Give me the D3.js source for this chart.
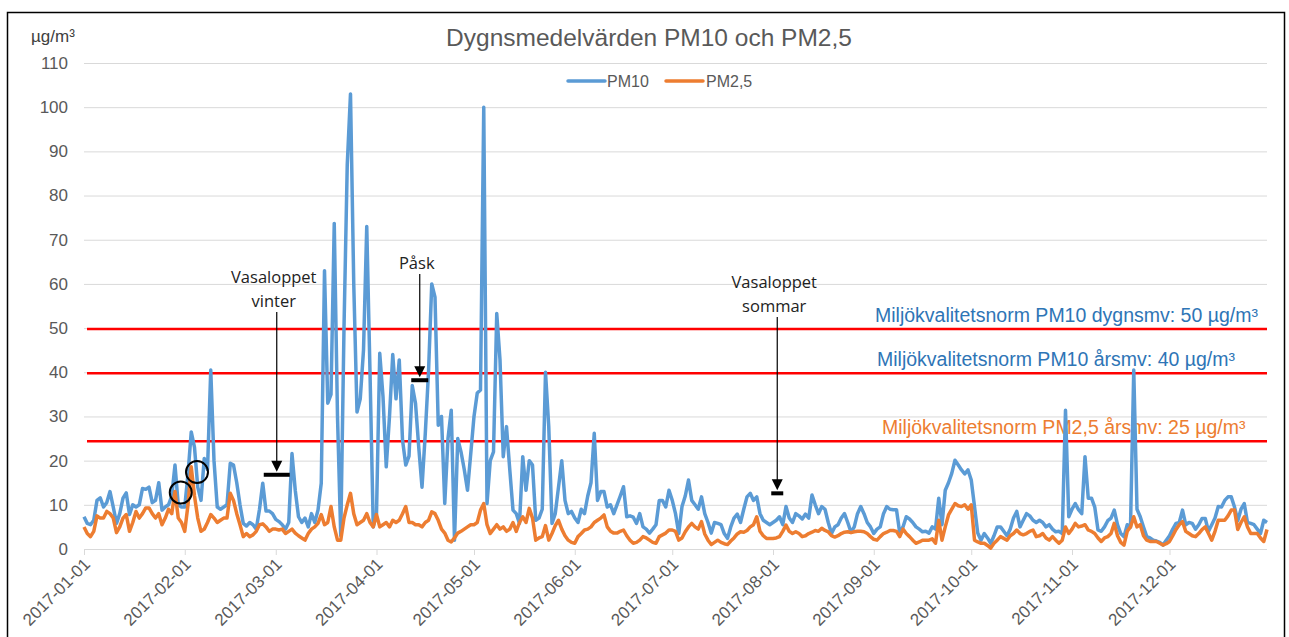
<!DOCTYPE html>
<html>
<head>
<meta charset="utf-8">
<style>
body { margin: 0; background: #fff; }
svg { display: block; font-family: "Liberation Sans", Arial, sans-serif; }
</style>
</head>
<body>
<div></div>
<script src="https://cdn.jsdelivr.net/npm/d3@7"></script>
<script>
var width = 1289, height = 637;

// PM10 daily means, one array per month
var pm10Jan = [7.3, 5.8, 5.5, 6.5, 11, 11.6, 9.5, 10.5, 13, 9.5, 5.8, 8, 11.5, 12.7, 7.8, 10, 9.5, 10, 13.7, 13.5, 14, 10.5, 11, 15, 8.8, 9.5, 10, 12, 19, 10, 9.5];
var pm10Feb = [9.5, 17, 26.5, 23, 14, 11, 20.5, 18, 40.5, 20, 9.5, 9, 9.5, 10, 19.4, 19, 15, 10, 5.8, 5.2, 6, 5.5, 4.5, 9, 14.9, 8.6, 8.6, 8];
var pm10Mar = [6.7, 6.2, 5.5, 4.5, 6, 21.6, 13.3, 7.3, 6, 7, 5, 8, 6, 8.8, 14.9, 63, 33, 35, 73.7, 30, 3, 50, 87, 103, 60, 31, 34, 45, 73, 40, 5];
var pm10Apr = [8, 44.3, 34.5, 18.6, 30, 44, 34, 42.8, 24.7, 19, 21, 37, 33, 23, 14, 26, 40, 60, 57, 28, 30, 10.3, 25, 31.4, 2, 25, 22, 18, 13.3, 21.6];
var pm10May = [30, 35.3, 36, 100, 10.3, 20, 22, 53.3, 42.8, 20.9, 27.7, 18, 8.8, 8, 5.8, 20.9, 13.3, 20, 19, 6.5, 7, 9, 40, 27.7, 5.8, 8, 14, 20, 11, 8, 8.5];
var pm10Jun = [7, 6, 9, 8, 12, 15, 26.2, 11, 13, 13, 9.5, 10, 8, 10, 12, 14.1, 7.3, 7.5, 7.2, 5.8, 8, 5, 4.5, 3.6, 4.5, 5.5, 11, 11, 9.5, 13.3];
var pm10Jul = [11, 8, 3.5, 9.6, 12, 15.6, 11, 10, 9, 11.8, 8, 6, 3.6, 6, 5.8, 5.5, 3.5, 2.4, 5, 7, 7.9, 6, 9, 11.8, 12.6, 11, 11.8, 8, 6.5, 6, 5.5];
var pm10Aug = [6, 6.5, 7.3, 5.5, 9.6, 7, 6, 8, 7.5, 6.8, 7.9, 7, 12.2, 10, 8, 9.6, 9, 6, 3.5, 5, 5.5, 7, 8, 6, 3.8, 5, 8, 9.6, 8, 6, 5];
var pm10Sep = [3.5, 4.5, 5, 8, 9.6, 9, 8.9, 8.9, 3.6, 5, 7.3, 6.8, 6, 5, 4.5, 3.9, 4, 3.6, 5, 4.5, 11.5, 5.5, 13.3, 15, 17.1, 20.1, 19, 17.9, 17, 17.9];
var pm10Oct = [15.6, 9.6, 3.6, 2, 3.5, 2.5, 1.3, 3, 5, 5, 4, 3, 4.5, 7, 8.5, 5, 6.5, 8, 7.5, 6.5, 6, 6.5, 6, 5, 5.5, 4.5, 3.9, 4, 3.5, 31.4, 7.3];
var pm10Nov = [9, 10.3, 8.9, 8, 20.9, 11.5, 11.5, 9.5, 4.3, 4, 5, 6.4, 7, 8.8, 5.5, 3.5, 2.8, 5.5, 5, 40.5, 9, 7.3, 5, 2.8, 2.5, 2, 1.8, 1.5, 0.9, 2];
var pm10Dec = [3, 4.5, 5.8, 6, 8.8, 5.5, 6, 5.8, 4.5, 5.5, 6.9, 6.9, 4, 5.5, 7, 9.6, 9.5, 11, 11.8, 11.8, 9.5, 6.4, 9, 10.3, 6, 5.8, 5.5, 4.5, 3.5, 6.5, 6];

// PM2,5 daily means, one array per month
var pm25Jan = [5, 3.5, 2.8, 4, 7.5, 7, 7, 8.5, 8, 7, 3.7, 5, 7, 7.8, 4, 6, 8.5, 7, 8, 9.3, 9.3, 8, 7, 8, 5.5, 7, 9, 8, 13, 7, 6];
var pm25Feb = [4, 10, 18.6, 12, 7, 4, 4.5, 6, 7.8, 7, 6, 6.5, 7, 7, 12.6, 11, 8, 5.5, 2.8, 3.5, 2.8, 3.2, 4, 5.5, 5.7, 5, 4, 4.5];
var pm25Mar = [4.5, 4.3, 4.5, 3.5, 4, 4.5, 3.6, 3, 2.5, 2, 3.5, 4.5, 5, 5.8, 7.8, 5.5, 6, 9.6, 5, 2, 2, 7, 10, 12.6, 8, 5.5, 6, 6.5, 8, 6, 5];
var pm25Apr = [7.8, 5, 5.5, 6, 5, 6.5, 6, 6.5, 8, 9.6, 6, 6, 5.5, 5.5, 5, 6, 6.5, 8.4, 8, 6.5, 4.5, 3.6, 2, 1.6, 2.5, 3.6, 4, 4.5, 5, 5.5];
var pm25May = [5.5, 6, 8.8, 10.3, 5.5, 3.5, 4.5, 5.5, 4.5, 5, 4, 4.5, 6, 4, 6, 7.3, 6, 9.2, 7, 2, 2.5, 2.8, 5.3, 2, 3.5, 5.3, 6.5, 4.5, 3, 2, 1.5];
var pm25Jun = [1.3, 2.8, 3.5, 4.3, 4.5, 5, 6, 6.5, 7, 7.7, 5, 4, 3.6, 3.6, 4, 4.3, 3, 2, 1.3, 1.5, 2, 2.8, 2.5, 2, 1.5, 1.3, 2.8, 3.2, 3.6, 4.3];
var pm25Jul = [4.3, 4, 2, 2.5, 3.9, 5, 5.8, 5, 4.5, 6.2, 3.4, 2, 1, 1.5, 2, 1.5, 1.2, 1, 1.8, 2.5, 3.4, 3.9, 3.8, 4.2, 5, 5.5, 7.3, 4, 3, 2.4, 2.4];
var pm25Aug = [2.4, 2.5, 2.8, 4, 5.4, 4, 3.5, 3.9, 3.5, 2.8, 3, 3.5, 3.8, 4.2, 4, 4.7, 4.2, 3.9, 3, 2.7, 3, 3.5, 3.8, 3.9, 3.7, 3.9, 4, 4, 3.9, 3.5, 2.8];
var pm25Sep = [2.2, 2, 2.8, 3.5, 3.8, 4.2, 4.2, 4, 2.8, 4.5, 3.5, 2.8, 2, 1.3, 1.6, 2, 2, 2, 2.3, 1.3, 6.5, 2, 5, 7.7, 9, 10.3, 9.8, 9.6, 10, 9];
var pm25Oct = [10, 2, 1.6, 1.3, 1.3, 0.8, 0.2, 1.3, 2, 2.8, 2.4, 2, 3, 3.5, 4.3, 3.5, 3.2, 3.5, 4, 4.3, 2.8, 3, 3.5, 2.5, 2, 2.8, 2, 1.3, 2, 5, 3.5];
var pm25Nov = [4.5, 5.8, 5, 5.2, 5.5, 4.3, 4, 3.5, 2.5, 1.7, 2.5, 2.8, 3.5, 5.8, 3, 1.5, 0.9, 4, 5, 7.3, 5, 5.5, 3, 2, 1.7, 1.7, 1.7, 1.3, 0.9, 1.2];
var pm25Dec = [1.7, 3, 4.4, 5.5, 6.2, 4, 3.5, 3, 2.8, 3.5, 4.4, 5, 3.5, 2, 4, 6.5, 6.5, 6.5, 7.5, 8.8, 8.8, 4.4, 6, 7.3, 5, 3.5, 3.5, 3.5, 2.5, 1.7, 4.4];

var yTicks = [0, 10, 20, 30, 40, 50, 60, 70, 80, 90, 100, 110];
var monthTicks = ["2017-01-01", "2017-02-01", "2017-03-01", "2017-04-01", "2017-05-01", "2017-06-01",
                  "2017-07-01", "2017-08-01", "2017-09-01", "2017-10-01", "2017-11-01", "2017-12-01"];

// limit lines (drawn levels) and their labels
var normLevels = [49.8, 39.8, 24.4];
var normLabels = ["Miljökvalitetsnorm PM10 dygnsmv: 50 µg/m³",
                  "Miljökvalitetsnorm PM10 årsmv: 40 µg/m³",
                  "Miljökvalitetsnorm PM2,5 årsmv: 25 µg/m³"];
var normColors = ["#2E75B6", "#2E75B6", "#ED7D31"];

// annotated events
var eventDates = ["2017-03-01", "2017-04-14", "2017-08-02"];
var eventLevels = [16.8, 38.2, 12.6];
var eventTexts = [["Vasaloppet", "vinter"], ["Påsk"], ["Vasaloppet", "sommar"]];

var pm10 = [].concat(pm10Jan, pm10Feb, pm10Mar, pm10Apr, pm10May, pm10Jun, pm10Jul, pm10Aug, pm10Sep, pm10Oct, pm10Nov, pm10Dec);
var pm25 = [].concat(pm25Jan, pm25Feb, pm25Mar, pm25Apr, pm25May, pm25Jun, pm25Jul, pm25Aug, pm25Sep, pm25Oct, pm25Nov, pm25Dec);

var parse = d3.utcParse("%Y-%m-%d");
var start = parse("2017-01-01");

var x = d3.scaleUtc()
    .domain([start, parse("2017-12-31")])
    .range([84, 1267]);

var y = d3.scaleLinear()
    .domain([0, 110])
    .range([549, 63]);

var svg = d3.select("div").append("svg")
    .attr("width", width)
    .attr("height", height);

// chart border
svg.append("rect")
    .attr("x", 7.5).attr("y", 12.5)
    .attr("width", 1277).attr("height", 700)
    .attr("fill", "none")
    .attr("stroke", "#000")
    .attr("stroke-width", 1.5);

// gridlines
svg.append("g")
  .selectAll("line")
    .data(yTicks.slice(1))
  .enter().append("line")
    .attr("x1", x.range()[0]).attr("x2", x.range()[1])
    .attr("y1", function(d) { return y(d) + 0.5; })
    .attr("y2", function(d) { return y(d) + 0.5; })
    .attr("stroke", "#d9d9d9");

// y tick labels
svg.append("g")
  .selectAll("text")
    .data(yTicks)
  .enter().append("text")
    .attr("x", 68)
    .attr("y", function(d) { return y(d); })
    .attr("dy", "0.35em")
    .attr("text-anchor", "end")
    .style("font-size", "17px")
    .style("fill", "#595959")
    .text(function(d) { return d; });

svg.append("text")
    .attr("x", 31).attr("y", 42)
    .style("font-size", "17px")
    .style("fill", "#404040")
    .text("µg/m³");

// x axis
var ticks = monthTicks.map(parse);
var xAxis = svg.append("g")
    .attr("transform", "translate(0," + y(0) + ")")
    .call(d3.axisBottom(x).tickValues(ticks).tickSize(6).tickFormat(""));
xAxis.select(".domain").attr("stroke", "#d9d9d9").attr("d", "M" + x.range()[0] + ",0.5H" + x.range()[1]);
xAxis.selectAll(".tick line").attr("stroke", "#d9d9d9");

svg.append("g")
  .selectAll("text")
    .data(ticks)
  .enter().append("text")
    .attr("transform", function(d) { return "translate(" + (x(d) + 3) + ",561) rotate(-45)"; })
    .attr("text-anchor", "end")
    .attr("dy", "0.35em")
    .style("font-size", "17px")
    .style("fill", "#595959")
    .text(d3.utcFormat("%Y-%m-%d"));

// limit lines
svg.append("g")
  .selectAll("line")
    .data(normLevels)
  .enter().append("line")
    .attr("x1", 87).attr("x2", 1267)
    .attr("y1", function(d) { return y(d); })
    .attr("y2", function(d) { return y(d); })
    .attr("stroke", "#ff0000")
    .attr("stroke-width", 2.5);

var normX = [875, 877, 882];
svg.append("g")
  .selectAll("text")
    .data(normLabels)
  .enter().append("text")
    .attr("x", function(d, i) { return normX[i]; })
    .attr("y", function(d, i) { return y(normLevels[i]) - 7; })
    .style("font-size", "19.5px")
    .style("fill", function(d, i) { return normColors[i]; })
    .text(function(d) { return d; });

// series
var line = d3.line()
    .x(function(d, i) { return x(d3.utcDay.offset(start, i)); })
    .y(function(d) { return y(d); });

svg.append("path")
    .datum(pm10)
    .attr("d", line)
    .attr("fill", "none")
    .attr("stroke", "#5B9BD5")
    .attr("stroke-width", 3.5)
    .attr("stroke-linejoin", "round");

svg.append("path")
    .datum(pm25)
    .attr("d", line)
    .attr("fill", "none")
    .attr("stroke", "#ED7D31")
    .attr("stroke-width", 3.5)
    .attr("stroke-linejoin", "round");

// title
svg.append("text")
    .attr("x", 649).attr("y", 46)
    .attr("text-anchor", "middle")
    .style("font-size", "24.5px")
    .style("fill", "#595959")
    .text("Dygnsmedelvärden PM10 och PM2,5");

// legend
var legend = svg.append("g").attr("transform", "translate(568,81)");
legend.append("line").attr("x1", 0).attr("x2", 37).attr("stroke", "#5B9BD5").attr("stroke-width", 3.5).attr("stroke-linecap", "round");
legend.append("text").attr("x", 39).attr("y", 6).style("font-size", "16px").style("fill", "#595959").text("PM10");
legend.append("line").attr("x1", 98).attr("x2", 135).attr("stroke", "#ED7D31").attr("stroke-width", 3.5).attr("stroke-linecap", "round");
legend.append("text").attr("x", 138).attr("y", 6).style("font-size", "16px").style("fill", "#595959").text("PM2,5");

// event markers
var barHalf = [13, 8.5, 6];
var arrowTop = [312, 274, 317];
var ev = svg.append("g").attr("class", "events");
eventDates.forEach(function(s, i) {
  var ex = x(parse(s)) + 1, ey = y(eventLevels[i]);
  ev.append("rect")
      .attr("x", ex - barHalf[i]).attr("y", ey - 2)
      .attr("width", barHalf[i] * 2).attr("height", 4)
      .attr("fill", "#000");
  ev.append("line")
      .attr("x1", ex).attr("x2", ex)
      .attr("y1", arrowTop[i]).attr("y2", ey - 12)
      .attr("stroke", "#000").attr("stroke-width", 1.2);
  ev.append("path")
      .attr("d", "M" + (ex - 5.5) + "," + (ey - 14) + "L" + (ex + 5.5) + "," + (ey - 14) + "L" + ex + "," + (ey - 3) + "Z")
      .attr("fill", "#000");
  var lines = eventTexts[i];
  lines.forEach(function(t, j) {
    ev.append("text")
        .attr("x", ex - 3)
        .attr("y", arrowTop[i] - 5 - (lines.length - 1 - j) * 24)
        .attr("text-anchor", "middle")
        .style("font-family", "'Open Sans', 'Noto Sans', sans-serif")
        .style("font-size", "16.5px")
        .style("fill", "#222")
        .text(t);
  });
});

// highlight circles
var circleDates = ["2017-01-30", "2017-02-04"];
var circleLevels = [12.8, 17.4];
svg.append("g")
  .selectAll("circle")
    .data(circleDates)
  .enter().append("circle")
    .attr("cx", function(d) { return x(parse(d)) + 2.5; })
    .attr("cy", function(d, i) { return y(circleLevels[i]); })
    .attr("r", 11)
    .attr("fill", "none")
    .attr("stroke", "#000")
    .attr("stroke-width", 2);
</script>
</body>
</html>
